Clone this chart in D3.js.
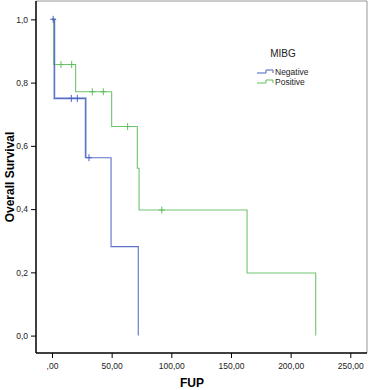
<!DOCTYPE html>
<html><head><meta charset="utf-8">
<script src="https://cdn.jsdelivr.net/npm/d3@7"></script>
<style>body{margin:0;background:#fff}svg{display:block}text{font-family:"Liberation Sans",Arial,sans-serif}</style>
</head><body>
<svg id="c" width="369" height="390"></svg>
<script>
// Kaplan-Meier steps: [time, survival]
const negSteps = [[0,1.0],[2,0.75],[28.2,0.5625],[49.5,0.28125],[72.3,0.0]];
const negCensor = [[1,1.0],[16.2,0.75],[21.2,0.75],[31,0.5625]];
const posSteps = [[0,1.0],[1.5,0.857],[19.8,0.771],[50,0.661],[71.5,0.529],[73,0.397],[163.5,0.198],[221,0.0]];
const posCensor = [[7.5,0.857],[16.5,0.857],[33.8,0.771],[43,0.771],[63.4,0.661],[92,0.397]];
const xTicks = [0,50,100,150,200,250];
const xTickLabels = [",00","50,00","100,00","150,00","200,00","250,00"];
const yTicks = [0,0.2,0.4,0.6,0.8,1.0];
const yTickLabels = ["0,0","0,2","0,4","0,6","0,8","1,0"];
const groups = ["Negative","Positive"];
const colors = ["#4a63c0","#5fbf5f"];

const svg = d3.select("#c");
const L=36, R=367, T=1, B=353;
const x = d3.scaleLinear().domain([-13.4,264]).range([L,R]);
const y = d3.scaleLinear().domain([-0.055,1.058]).range([B,T]);

// frame
svg.append("line").attr("x1",L).attr("x2",R).attr("y1",T).attr("y2",T).attr("stroke","#999");
svg.append("line").attr("x1",R).attr("x2",R).attr("y1",T).attr("y2",B).attr("stroke","#999");

const line = d3.line().x(d=>x(d[0])).y(d=>y(d[1])).curve(d3.curveStepAfter);
function draw(steps, censor, col){
  svg.append("path").attr("d",line(steps)).attr("fill","none").attr("stroke",col).attr("stroke-width",1.1).attr("opacity",0.9);
  svg.selectAll(null).data(censor).enter().append("path")
    .attr("d",d=>`M${x(d[0])-3},${y(d[1])}H${x(d[0])+3}M${x(d[0])},${y(d[1])-3.5}V${y(d[1])+3.5}`)
    .attr("stroke",col).attr("stroke-width",1);
}
// halo for overlapping blue region
svg.append("path").attr("d",line(negSteps.slice(0,3))).attr("fill","none").attr("stroke","#c8d1ee").attr("stroke-width",2.6);
draw(posSteps,posCensor,colors[1]);
draw(negSteps,negCensor,colors[0]);

// axes
const xa = svg.append("g").attr("transform",`translate(0,${B})`)
  .call(d3.axisBottom(x).tickValues(xTicks).tickSize(5).tickFormat((d,i)=>xTickLabels[i]));
const ya = svg.append("g").attr("transform",`translate(${L},0)`)
  .call(d3.axisLeft(y).tickValues(yTicks).tickSize(5).tickFormat((d,i)=>yTickLabels[i]));
[xa,ya].forEach(a=>{
  a.select(".domain").attr("stroke","#000").attr("stroke-width",1.5);
  a.selectAll(".tick line").attr("stroke","#000");
  a.selectAll("text").attr("font-size",8.5).attr("fill","#222").attr("font-family","Liberation Sans, Arial, sans-serif");
});
xa.select(".domain").attr("d",`M${L},0H${R}`);
ya.select(".domain").attr("d",`M0,${T}V${B}`);
xa.selectAll("text").attr("dy","0.95em");

svg.append("text").attr("x",192).attr("y",387).attr("text-anchor","middle")
  .attr("font-size",12).attr("font-weight","bold").text("FUP");
svg.append("text").attr("transform","translate(14,177) rotate(-90)").attr("text-anchor","middle")
  .attr("font-size",12).attr("font-weight","bold").text("Overall Survival");

// legend
svg.append("text").attr("x",283).attr("y",57).attr("text-anchor","middle").attr("font-size",10).attr("fill","#222").text("MIBG");
groups.forEach((g,i)=>{
  const yy = 72 + i*10;
  svg.append("path").attr("d",`M257,${yy+1}H266V${yy-2}H273V${yy+1}`).attr("fill","none").attr("stroke",colors[i]).attr("stroke-width",1);
  svg.append("text").attr("x",275).attr("y",yy+3).attr("font-size",8.5).attr("fill","#222").text(g);
});
</script>
</body></html>
